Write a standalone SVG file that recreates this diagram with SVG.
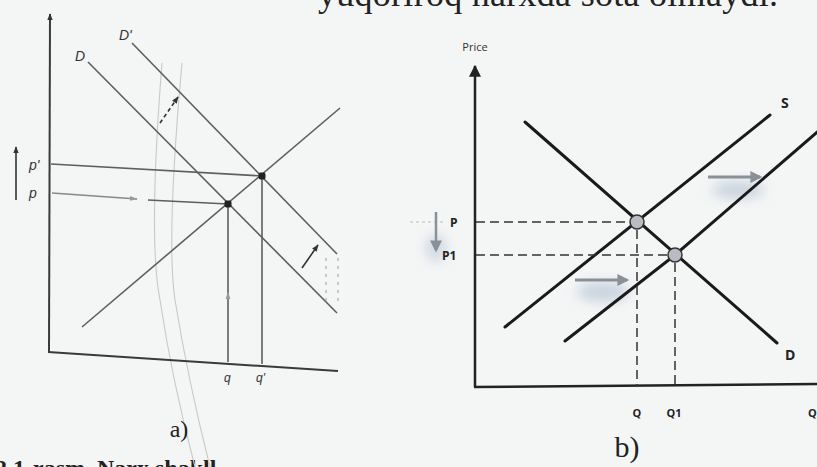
<svg xmlns="http://www.w3.org/2000/svg" width="817" height="467" viewBox="0 0 817 467">
<defs>
<style>
.ln{stroke:#5e5e5e;stroke-width:1.6;fill:none}
.ax{stroke:#3a3a3a;stroke-width:2;fill:none}
.lb{font-family:"Liberation Sans",Arial,sans-serif;font-style:italic;font-size:14px;fill:#333}
.rl{stroke:#1a1a1a;stroke-width:3;fill:none;stroke-linecap:round}
.dash{stroke:#333;stroke-width:1.5;stroke-dasharray:9 5;fill:none}
.rb{font-family:"Open Sans","DejaVu Sans",sans-serif;font-weight:bold;font-size:11px;fill:#222}
.ser{font-family:"Liberation Serif","Times New Roman",serif;fill:#222}
.ghost{stroke:#c8c8c8;stroke-width:1.1;fill:none}
.garrow{stroke:#8a9098;stroke-width:3;fill:none}
</style>
<marker id="ah" viewBox="0 0 10 10" refX="9" refY="5" markerWidth="7" markerHeight="7" orient="auto-start-reverse" markerUnits="userSpaceOnUse">
<path d="M0,1 L10,5 L0,9 z" fill="#333"/>
</marker>
<marker id="ahl" viewBox="0 0 10 10" refX="9" refY="5" markerWidth="8" markerHeight="8" orient="auto" markerUnits="userSpaceOnUse">
<path d="M0,2 L10,5 L0,8 z" fill="#999"/>
</marker>
<marker id="ahb" viewBox="0 0 10 10" refX="9" refY="5" markerWidth="12" markerHeight="12" orient="auto" markerUnits="userSpaceOnUse">
<path d="M0,0 L10,5 L0,10 z" fill="#222"/>
</marker>
<marker id="ahg" viewBox="0 0 10 10" refX="8" refY="5" markerWidth="14" markerHeight="12" orient="auto" markerUnits="userSpaceOnUse">
<path d="M0,0 L10,5 L0,10 z" fill="#8a9098"/>
</marker>
<filter id="blur" x="-50%" y="-50%" width="200%" height="200%"><feGaussianBlur stdDeviation="6"/></filter>
</defs>
<rect width="817" height="467" fill="#f4f5f5"/>
<text class="ser" x="318" y="6" style="font-size:36px" textLength="460" lengthAdjust="spacing">yuqoriroq narxda sota olmaydi.</text>
<text class="ser" x="-5" y="476" style="font-size:24px;font-weight:bold">2.1-rasm. Narx shakll</text>

<g id="page-artifacts">
<path class="ghost" d="M162,63 Q148,240 160,300 Q172,380 195,467"/>
<path class="ghost" d="M182,63 Q166,240 175,300 Q188,380 210,467"/>
</g>

<g id="chart-a">
<g id="axes-a">
<line class="ax" x1="50" y1="14" x2="49" y2="352" marker-start="url(#ah)"/>
<line class="ax" x1="48" y1="352" x2="338" y2="371"/>
</g>
<g id="connectors-a">
<line class="ln" x1="88" y1="62" x2="337" y2="313"/>
<line class="ln" x1="132" y1="43" x2="337" y2="254"/>
<line class="ln" x1="82" y1="327" x2="340" y2="108"/>
<line class="ln" x1="51" y1="164" x2="262" y2="176"/>
<line class="ln" x1="52" y1="193" x2="137" y2="199" style="stroke:#888" marker-end="url(#ahl)"/>
<line class="ln" x1="148" y1="200" x2="228" y2="204"/>
<line class="ln" x1="228" y1="204" x2="228" y2="362"/>
<line x1="228" y1="362" x2="228" y2="292" stroke="none" marker-end="url(#ahl)"/>
<line class="ln" x1="262" y1="176" x2="262" y2="364"/>
<line class="ln" x1="16" y1="200" x2="16" y2="147" style="stroke:#333" marker-end="url(#ah)"/>
<line class="ln" x1="160" y1="123" x2="178" y2="97" style="stroke:#333;stroke-dasharray:4 3" marker-end="url(#ah)"/>
<line class="ln" x1="302" y1="268" x2="318" y2="245" style="stroke:#333" marker-end="url(#ah)"/>
<line x1="326" y1="258" x2="326" y2="305" stroke="#aaa" stroke-width="1.2" stroke-dasharray="3 5"/>
<line x1="338" y1="258" x2="338" y2="305" stroke="#aaa" stroke-width="1.2" stroke-dasharray="3 5"/>
</g>
<g id="eq-a1"><rect x="224.5" y="200.5" width="7" height="7" rx="2" fill="#222"/></g>
<g id="eq-a2"><rect x="258.5" y="172.5" width="7" height="7" rx="2" fill="#222"/></g>
<g id="labels-a">
<text class="lb" x="75" y="61">D</text>
<text class="lb" x="119" y="40">D'</text>
<text class="lb" x="29" y="170">p'</text>
<text class="lb" x="29" y="198">p</text>
<text class="lb" x="224" y="382" style="font-size:12px">q</text>
<text class="lb" x="256" y="382" style="font-size:12px">q'</text>
</g>
<text class="ser" x="179" y="437" style="font-size:24px" text-anchor="middle">a)</text>
</g>

<g id="chart-b">
<g id="glow">
<ellipse cx="738" cy="190" rx="26" ry="9" fill="#aebfd1" opacity="0.6" filter="url(#blur)"/>
<ellipse cx="603" cy="292" rx="26" ry="10" fill="#aebfd1" opacity="0.6" filter="url(#blur)"/>
<ellipse cx="436" cy="248" rx="10" ry="14" fill="#aebfd1" opacity="0.5" filter="url(#blur)"/>
</g>
<g id="axes-b">
<line x1="475" y1="387" x2="475" y2="66" stroke="#222" stroke-width="2.5" marker-end="url(#ahb)"/>
<line x1="474" y1="387" x2="817" y2="384" stroke="#222" stroke-width="2.5"/>
</g>
<text x="475" y="51" text-anchor="middle" font-family="'Open Sans','DejaVu Sans',sans-serif" font-size="11" fill="#333">Price</text>
<g id="connectors-b">
<line class="rl" x1="525" y1="122" x2="777" y2="343"/>
<line class="rl" x1="505" y1="327" x2="770" y2="115"/>
<polyline class="rl" points="565,341 675,255 822,128"/>
<line class="dash" x1="476" y1="222" x2="630" y2="222"/>
<line x1="410" y1="222" x2="446" y2="222" stroke="#bbb" stroke-width="1.2" stroke-dasharray="3 3"/>
<line class="dash" x1="476" y1="255" x2="668" y2="255"/>
<line class="dash" x1="637" y1="230" x2="637" y2="386"/>
<line class="dash" x1="675" y1="263" x2="675" y2="386"/>
<line class="garrow" x1="436" y1="212" x2="436" y2="250" style="stroke-width:2.5" marker-end="url(#ahg)"/>
<line class="garrow" x1="708" y1="177" x2="760" y2="177" marker-end="url(#ahg)"/>
<line class="garrow" x1="575" y1="280" x2="627" y2="280" marker-end="url(#ahg)"/>
</g>
<g id="eq-P"><circle cx="637" cy="222" r="7" fill="#b9bcc3" stroke="#333" stroke-width="1.5"/></g>
<g id="eq-P1"><circle cx="675" cy="255" r="7" fill="#b9bcc3" stroke="#333" stroke-width="1.5"/></g>
<g id="labels-b">
<text class="rb" x="450" y="227" style="font-size:12px">P</text>
<text class="rb" x="442" y="260" style="font-size:12px">P1</text>
<text class="rb" x="637" y="417" text-anchor="middle">Q</text>
<text class="rb" x="674" y="417" text-anchor="middle">Q1</text>
<text class="rb" x="808" y="417">Q</text>
<text class="rb" x="781" y="108" style="font-size:14px">S</text>
<text class="rb" x="785" y="360" style="font-size:14px">D</text>
</g>
<text class="ser" x="627" y="457" style="font-size:30px" text-anchor="middle">b)</text>
</g>
</svg>
